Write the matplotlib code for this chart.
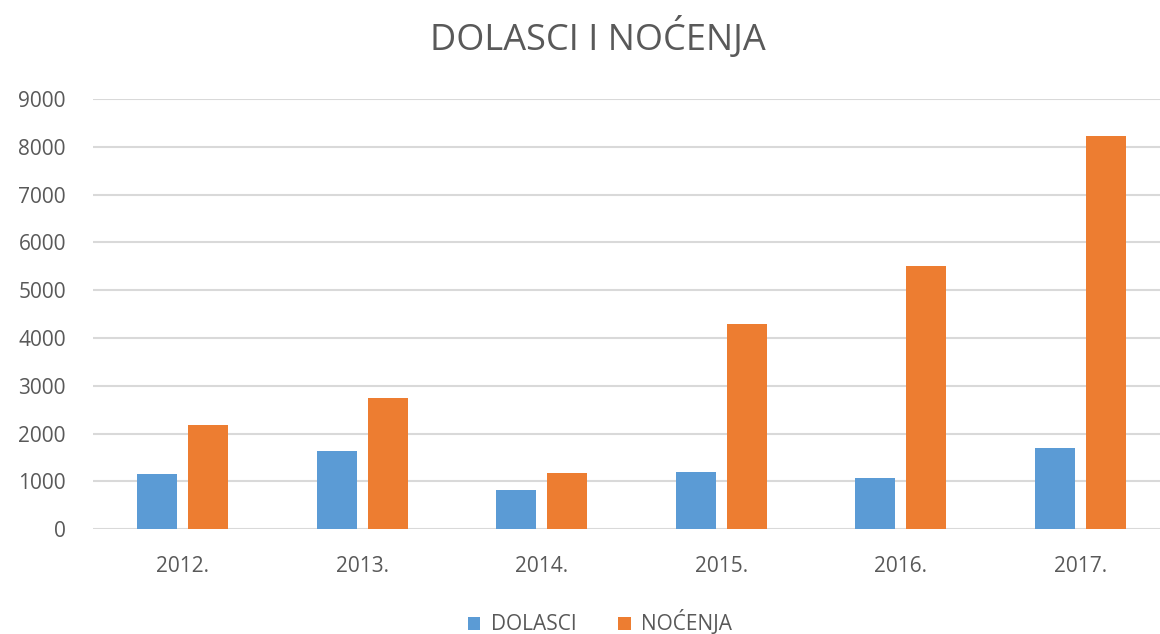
import matplotlib
matplotlib.use("Agg")
import matplotlib.pyplot as plt
import numpy as np

years = ["2012.", "2013.", "2014.", "2015.", "2016.", "2017."]
dolasci = [1150, 1640, 820, 1205, 1070, 1695]
nocenja = [2180, 2740, 1170, 4290, 5510, 8230]
yticks = [0, 1000, 2000, 3000, 4000, 5000, 6000, 7000, 8000, 9000]

plt.rcParams['font.family'] = ['Open Sans', 'DejaVu Sans']
W, H = 1160, 634
fig = plt.figure(figsize=(W/100, H/100), dpi=100)
ax = fig.add_axes([93/W, (H-529.3)/H, 1077/W, 430.3/H])

x = np.arange(len(years))
bw = 0.225
off = 0.142
ax.bar(x - off, dolasci, bw, color="#5B9BD5", label="DOLASCI", zorder=3)
ax.bar(x + off, nocenja, bw, color="#ED7D31", label="NOĆENJA", zorder=3)

ax.set_xlim(-0.5, 5.5)
ax.set_ylim(0, 9000)
ax.set_yticks(yticks)
ax.set_yticklabels([str(v) for v in yticks])
ax.set_xticks(x)
ax.set_xticklabels(years)
ax.grid(axis='y', color="#D9D9D9", linewidth=1.5, zorder=0)
for s in ax.spines.values():
    s.set_visible(False)
ax.tick_params(axis='both', length=0, colors="#595959", labelsize=15)
ax.tick_params(axis='y', pad=19.5)
ax.tick_params(axis='x', pad=19)

fig.text(598/W, 1-38/H, "DOLASCI I NOĆENJA", ha='center', va='center',
         fontsize=26, color="#595959")

fig.legend(loc='center', bbox_to_anchor=(600/W, 1-623/H), ncol=2, frameon=False,
           fontsize=15, labelcolor="#595959", handlelength=0.6, handleheight=0.6,
           columnspacing=2.0, handletextpad=0.5)

fig.savefig("out.png", dpi=100)
